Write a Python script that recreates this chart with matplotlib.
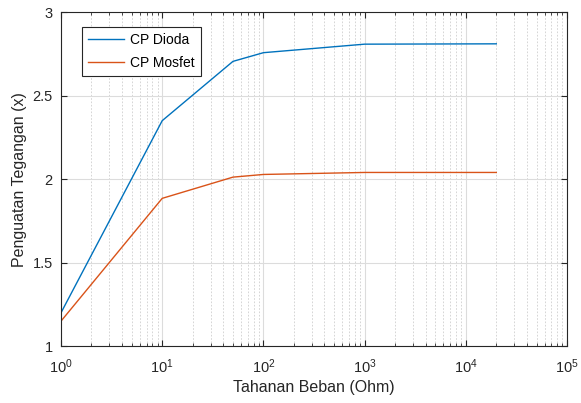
import matplotlib
matplotlib.use("Agg")
import matplotlib.pyplot as plt
from matplotlib.ticker import LogLocator, NullFormatter

plt.rcParams['font.family'] = ['Liberation Sans', 'DejaVu Sans']

resistance = [1, 10, 50, 100, 1000, 20000]
cp_dioda = [1.20, 2.35, 2.705, 2.757, 2.808, 2.81]
cp_mosfet = [1.15, 1.885, 2.012, 2.028, 2.04, 2.04]
y_ticks = [1, 1.5, 2, 2.5, 3]
y_ticklabels = ['1', '1.5', '2', '2.5', '3']

fig = plt.figure(figsize=(5.81, 4.03), dpi=100)
ax = fig.add_axes([0.105, 0.141, 0.871, 0.829])

ax.plot(resistance, cp_dioda, color='#0072BD', lw=1.0, label='CP Dioda')
ax.plot(resistance, cp_mosfet, color='#D95319', lw=1.0, label='CP Mosfet')

ax.set_xscale('log')
ax.set_xlim(1, 1e5)
ax.set_ylim(1, 3)
ax.set_yticks(y_ticks)
ax.set_yticklabels(y_ticklabels)
ax.xaxis.set_minor_locator(LogLocator(base=10, subs=range(2, 10), numticks=20))
ax.xaxis.set_minor_formatter(NullFormatter())

ax.grid(True, which='major', color='#dcdcdc', lw=0.8, ls='-')
ax.grid(True, which='minor', axis='x', color='#cfcfcf', lw=0.6, ls=(0, (2, 2)))
ax.set_axisbelow(True)

ax.tick_params(which='both', direction='in', top=True, right=True, labelsize=10.5, colors='#262626')
ax.tick_params(which='major', length=4)
ax.tick_params(which='minor', length=2)
ax.tick_params(axis='x', which='major', pad=8)
ax.tick_params(axis='y', which='major', pad=6)
for s in ax.spines.values():
    s.set_color('#262626')
    s.set_linewidth(0.8)

ax.set_xlabel('Tahanan Beban (Ohm)', fontsize=11.5, color='#262626', labelpad=3)
ax.set_ylabel('Penguatan Tegangan (x)', fontsize=11.5, color='#262626')

leg = ax.legend(loc='upper left', bbox_to_anchor=(0.028, 0.976), fancybox=False,
                edgecolor='#262626', framealpha=1, fontsize=10, handlelength=2.6,
                borderpad=0.45, labelspacing=0.6, handletextpad=0.4)
leg.get_frame().set_linewidth(0.8)

fig.savefig('out.png', dpi=100)
